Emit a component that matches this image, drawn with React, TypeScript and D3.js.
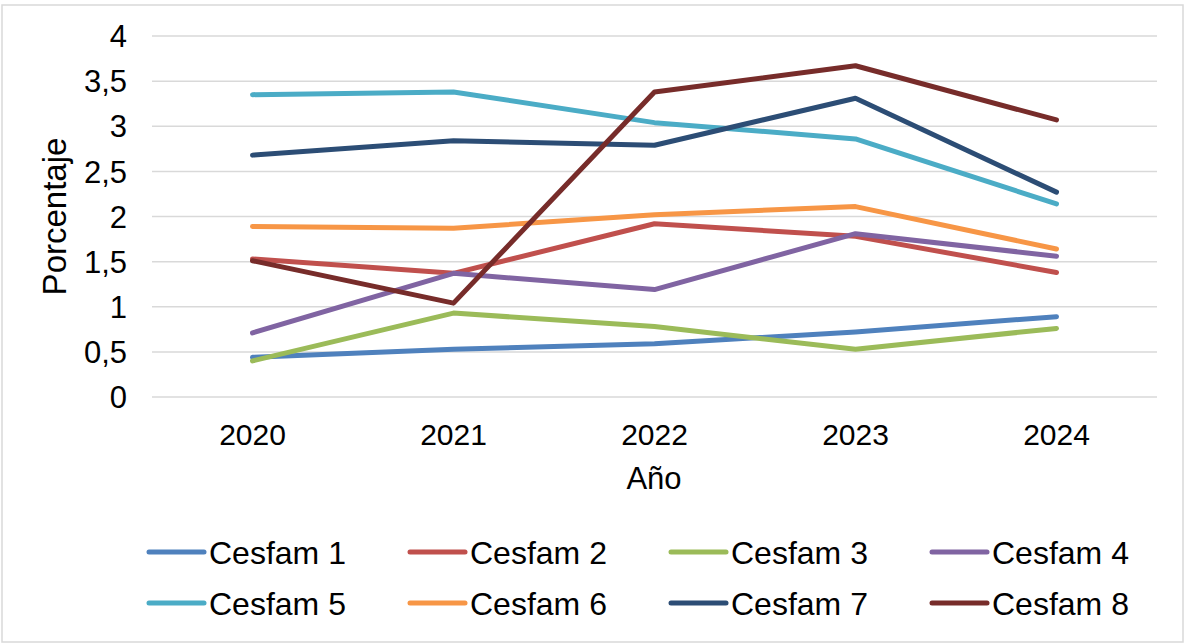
import React from 'react';
import * as d3 from 'd3';

// Years on the x axis
const years = ['2020', '2021', '2022', '2023', '2024'];

// Y axis ticks
const yTicks = [0, 0.5, 1, 1.5, 2, 2.5, 3, 3.5, 4];

// Series names and colours
const seriesNames = ['Cesfam 1', 'Cesfam 2', 'Cesfam 3', 'Cesfam 4', 'Cesfam 5', 'Cesfam 6', 'Cesfam 7', 'Cesfam 8'];
const seriesColors = ['#4F81BD', '#C0504D', '#9BBB59', '#8064A2', '#4BACC6', '#F79646', '#2C4D75', '#772C2A'];

// Values per series (percentage)
const cesfam1 = [0.44, 0.53, 0.59, 0.72, 0.89];
const cesfam2 = [1.53, 1.37, 1.92, 1.78, 1.38];
const cesfam3 = [0.4, 0.93, 0.78, 0.53, 0.76];
const cesfam4 = [0.71, 1.37, 1.19, 1.81, 1.56];
const cesfam5 = [3.35, 3.38, 3.04, 2.86, 2.14];
const cesfam6 = [1.89, 1.87, 2.02, 2.11, 1.64];
const cesfam7 = [2.68, 2.84, 2.79, 3.31, 2.27];
const cesfam8 = [1.51, 1.04, 3.38, 3.67, 3.07];

const allSeries = [cesfam1, cesfam2, cesfam3, cesfam4, cesfam5, cesfam6, cesfam7, cesfam8];

const width = 1185;
const height = 643;
const font = '"Liberation Sans", Arial, sans-serif';

export default function App() {
  const x = d3.scaleBand<string>().domain(years).range([152, 1157]);
  const y = d3.scaleLinear().domain([0, 4]).range([397, 36]);

  const line = d3
    .line<number>()
    .x((d, i) => (x(years[i]) as number) + x.bandwidth() / 2)
    .y((d) => y(d));

  const fmt = (v: number) => String(v).replace('.', ',');

  return (
    <svg
      width={width}
      height={height}
      style={{ position: 'absolute', left: 0, top: 0, display: 'block', background: '#fff' }}
      fontFamily={font}
    >
      <rect x={2} y={5} width={1181} height={637} fill="#fff" stroke="#D9D9D9" strokeWidth={1.5} />

      {/* gridlines */}
      {yTicks.map((t) => (
        <line key={t} x1={152} x2={1157} y1={y(t)} y2={y(t)} stroke="#D9D9D9" strokeWidth={1.5} />
      ))}

      {/* y tick labels */}
      {yTicks.map((t) => (
        <text key={'l' + t} x={127} y={y(t)} dy="0.36em" textAnchor="end" fontSize={31} fill="#000">
          {fmt(t)}
        </text>
      ))}

      {/* x tick labels */}
      {years.map((yr) => (
        <text
          key={yr}
          x={(x(yr) as number) + x.bandwidth() / 2}
          y={445}
          textAnchor="middle"
          fontSize={30}
          fill="#000"
        >
          {yr}
        </text>
      ))}

      {/* axis titles */}
      <text x={654} y={489} textAnchor="middle" fontSize={31} fill="#000">
        Año
      </text>
      <text
        transform={`translate(66, ${(y(0) + y(4)) / 2}) rotate(-90)`}
        textAnchor="middle"
        fontSize={33}
        fill="#000"
      >
        Porcentaje
      </text>

      {/* series lines */}
      {allSeries.map((s, i) => (
        <path
          key={seriesNames[i]}
          d={line(s) || ''}
          fill="none"
          stroke={seriesColors[i]}
          strokeWidth={5}
          strokeLinecap="round"
          strokeLinejoin="round"
        />
      ))}

      {/* legend */}
      {seriesNames.map((name, i) => {
        const col = i % 4;
        const row = Math.floor(i / 4);
        const lx = 149 + col * 261;
        const ly = 552 + row * 51;
        return (
          <g key={'leg' + name}>
            <line x1={lx} x2={lx + 55} y1={ly} y2={ly} stroke={seriesColors[i]} strokeWidth={5} strokeLinecap="round" />
            <text x={lx + 60} y={ly} dy="0.36em" fontSize={32} fill="#000">
              {name}
            </text>
          </g>
        );
      })}
    </svg>
  );
}
